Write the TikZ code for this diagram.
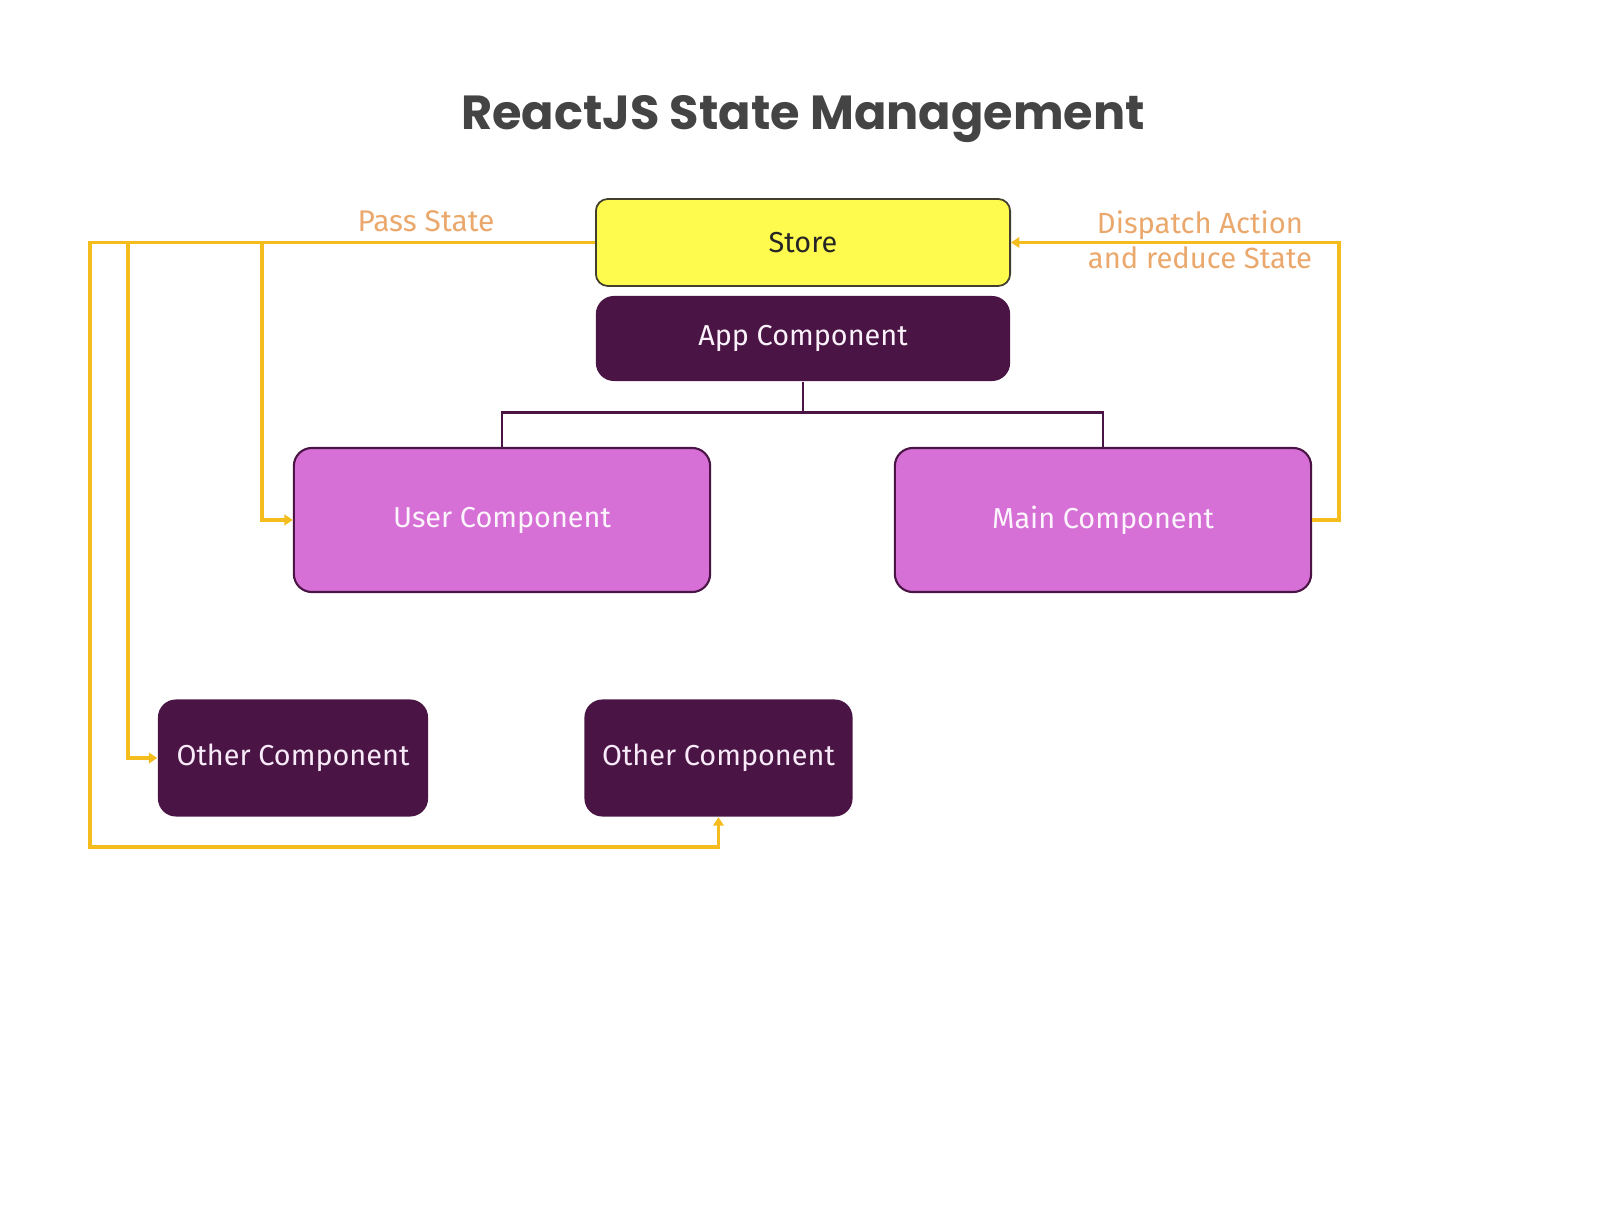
\documentclass[tikz,border=0pt]{standalone}
\usepackage{fontspec}
\setmainfont{Fira Sans}
\newfontfamily\titlefont{Poppins}
\usetikzlibrary{shapes,arrows.meta,positioning,calc}
\definecolor{storeyellow}{RGB}{255,250,78}
\definecolor{darkplum}{RGB}{74,21,69}
\definecolor{orchid}{RGB}{214,112,214}
\definecolor{flowyellow}{RGB}{244,188,28}
\definecolor{labelorange}{RGB}{234,168,108}
\definecolor{titlegray}{RGB}{68,68,68}

\begin{document}
\begin{tikzpicture}[x=0.01cm, y=-0.01cm,
    box/.style={rounded corners=0.18cm, align=center, font=\fontsize{8.2}{10}\selectfont, inner sep=0pt},
    flow/.style={draw=flowyellow, line width=1pt},
    tip/.style={-{Triangle[length=2.4pt,width=3pt]}},
    tree/.style={draw=darkplum, line width=0.7pt}]

    % Canvas
    \useasboundingbox (0,0) rectangle (1614,1216);

    % Title
    \node[font=\titlefont\bfseries\fontsize{13.6}{16}\selectfont, text=titlegray] (title) at (803,119) {ReactJS State Management};

    % Boxes
    \node[box, fill=storeyellow, draw=black!70!olive, line width=0.5pt, rounded corners=0.12cm, text=black!85,
          minimum width=4.14cm, minimum height=0.87cm] (store) at (803,242.5) {Store};
    \node[box, fill=darkplum, text=white!90!orchid, minimum width=4.14cm, minimum height=0.85cm] (app) at (803,338.5) {App Component};
    \node[box, fill=orchid, draw=darkplum, line width=0.6pt, text=white!92!orchid,
          minimum width=4.16cm, minimum height=1.44cm] (user) at (502,520) {User Component};
    \node[box, fill=orchid, draw=darkplum, line width=0.6pt, text=white!92!orchid,
          minimum width=4.16cm, minimum height=1.44cm] (main) at (1103,520) {Main Component};
    \node[box, fill=darkplum, text=white!85!orchid, minimum width=2.70cm, minimum height=1.17cm] (other1) at (293,758) {Other Component};
    \node[box, fill=darkplum, text=white!85!orchid, minimum width=2.68cm, minimum height=1.17cm] (other2) at (718.5,758) {Other Component};

    % Tree
    \draw[tree] (app.south) -- ++(0,31) coordinate (fork) -| (user.north);
    \draw[tree] (fork) -| (main.north);

    % Pass State
    \coordinate (outer) at (90,847);
    \coordinate (mid) at (128,0);
    \coordinate (inner) at (262,0);
    \draw[flow, tip] (store.west) -| (outer) -| (other2.south);
    \draw[flow, tip] (store.west -| mid) |- (other1.west);
    \draw[flow, tip] (store.west -| inner) |- (user.west);
    \node[text=labelorange, font=\fontsize{8.5}{10}\selectfont] (pass) at (426,221) {Pass State};

    % Dispatch Action
    \draw[flow, tip] (main.east) -- ++(27,0) |- (store.east);
    \node[text=labelorange, align=center, font=\fontsize{8.3}{10}\selectfont] (dispatch) at (1200,240) {Dispatch Action\\and reduce State};

\end{tikzpicture}
\end{document}
